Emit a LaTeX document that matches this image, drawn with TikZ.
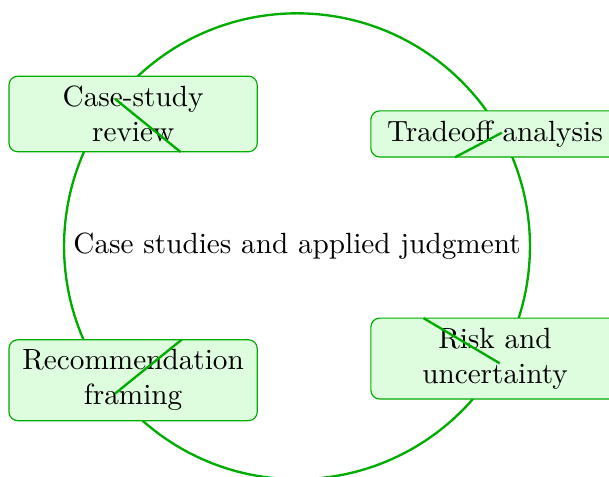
\documentclass[tikz,border=0pt]{standalone}
\usetikzlibrary{shapes.geometric}
\definecolor{ringgreen}{RGB}{0,172,0}
\definecolor{boxfill}{RGB}{222,252,222}
\tikzset{
  stepbox/.style={draw=ringgreen, fill=boxfill, rounded corners=3pt, text width=2.75cm, align=center, minimum height=0.54cm},
  ring/.style={draw=ringgreen, thick, circle, minimum size=5.6cm, inner sep=0pt}
}

\begin{document}
\begin{tikzpicture}
\useasboundingbox (-3.57,-2.77) rectangle (3.75,2.96);
\node[ring] (hub) at (0,0) {Case studies and applied judgment};
\node[stepbox] (review) at (-1.97,1.59) {Case-study review};
\node[stepbox] (tradeoff) at (2.38,1.35) {Tradeoff analysis};
\node[stepbox] (framing) at (-1.97,-1.61) {Recommendation framing};
\node[stepbox] (risk) at (2.38,-1.35) {Risk and uncertainty};
\coordinate (reviewin) at (141:1.8);
\coordinate (tradeoffin) at (29.4:2.18);
\coordinate (framingin) at (219:1.78);
\coordinate (riskin) at (330.4:1.75);
\draw [ringgreen,thick](hub.141) -- (reviewin);
\draw [ringgreen,thick](hub.29.4) -- (tradeoffin);
\draw [ringgreen,thick](hub.219) -- (framingin);
\draw [ringgreen,thick](hub.330.4) -- (riskin);
\end{tikzpicture}
\end{document}
